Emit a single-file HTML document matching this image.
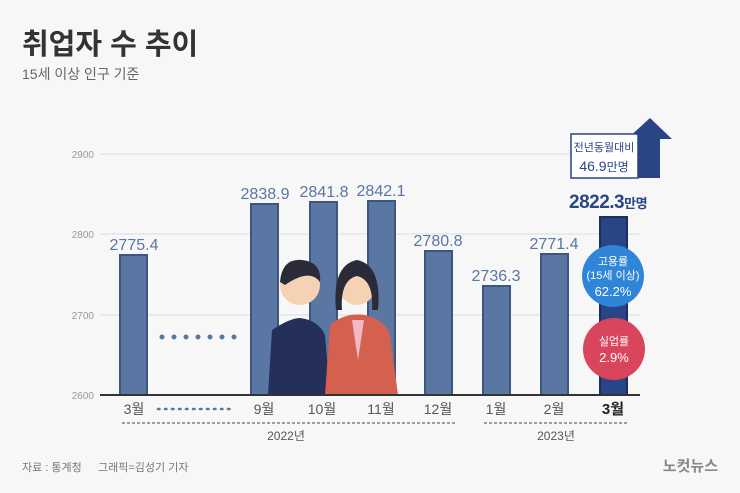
<!DOCTYPE html>
<html><head><meta charset="utf-8"><style>
body{margin:0;width:740px;height:488px;overflow:hidden;background:#f7f7f7;font-family:"Liberation Sans","Noto Sans CJK KR",sans-serif;}
</style></head><body>
<svg width="740" height="488" xmlns="http://www.w3.org/2000/svg" font-family="Liberation Sans, Noto Sans CJK KR, sans-serif">
<rect width="740" height="488" fill="#f7f7f7"/>
<text x="22" y="54" font-size="29" font-weight="bold" fill="#333">취업자 수 추이</text>
<text x="22" y="79" font-size="14" fill="#666">15세 이상 인구 기준</text>
<g stroke="#dcdcdc" stroke-width="1">
<line x1="100" y1="154" x2="640" y2="154"/><line x1="100" y1="234" x2="640" y2="234"/><line x1="100" y1="315" x2="640" y2="315"/>
</g>
<g font-size="10" fill="#999" text-anchor="end">
<text x="94" y="158">2900</text><text x="94" y="238">2800</text><text x="94" y="319">2700</text><text x="94" y="399">2600</text>
</g>
<g fill="#5a76a3" stroke="#3d5680" stroke-width="2">
<rect x="120" y="255" width="27" height="140"/>
<rect x="251" y="204" width="27" height="191"/>
<rect x="310" y="202" width="27" height="193"/>
<rect x="368" y="201" width="27" height="194"/>
<rect x="425" y="251" width="27" height="144"/>
<rect x="483" y="286" width="27" height="109"/>
<rect x="541" y="254" width="27" height="141"/>
</g>
<rect x="600" y="217" width="27" height="178" fill="#2a4585" stroke="#1d2f5e" stroke-width="2"/>
<g font-size="16" fill="#5a76a3" text-anchor="middle">
<text x="134" y="250">2775.4</text><text x="265" y="199">2838.9</text><text x="324" y="197">2841.8</text><text x="381" y="196">2842.1</text><text x="438" y="246">2780.8</text><text x="496" y="281">2736.3</text><text x="554" y="249">2771.4</text>
</g>
<text x="569" y="208" font-size="19" font-weight="bold" fill="#2a4585" letter-spacing="-0.5">2822.3<tspan font-size="13">만명</tspan></text>
<g fill="#5a76a3"><circle cx="162" cy="337" r="2.5"/><circle cx="174" cy="337" r="2.5"/><circle cx="186" cy="337" r="2.5"/><circle cx="198" cy="337" r="2.5"/><circle cx="210" cy="337" r="2.5"/><circle cx="222" cy="337" r="2.5"/><circle cx="234" cy="337" r="2.5"/></g>
<!-- people -->
<path d="M268 395 L272 330 Q290 318 300 318 Q318 320 325 335 L330 395 Z" fill="#25305a"/>
<circle cx="300" cy="285" r="20" fill="#f6d2b5"/>
<path d="M280 282 Q282 258 302 260 Q322 262 320 282 Q310 268 285 285 Z" fill="#2a2a38"/>
<path d="M325 395 L330 325 Q345 312 365 315 Q385 320 390 335 L398 395 Z" fill="#d4604f"/>
<path d="M352 320 L358 360 L364 320 Z" fill="#f2b8c8"/>
<circle cx="357" cy="287" r="18" fill="#f6d2b5"/>
<path d="M336 310 Q332 265 357 260 Q382 265 378 310 L372 310 Q374 280 357 276 Q340 280 342 310 Z" fill="#2a2a38"/>
<!-- arrow box -->
<path d="M628 178 L628 139 L627 139 L650 118 L672 139 L660 139 L660 178 Z" fill="#2a4585"/>
<rect x="571" y="134" width="67" height="44" fill="#fff" stroke="#2a4585" stroke-width="1.5"/>
<text x="604" y="151" font-size="11" fill="#2a4585" text-anchor="middle">전년동월대비</text>
<text x="604" y="171" font-size="14" fill="#2a4585" text-anchor="middle">46.9<tspan font-size="12">만명</tspan></text>
<circle cx="613" cy="276" r="31" fill="#2f86d9"/>
<text x="613" y="265" font-size="11" fill="#fff" text-anchor="middle">고용률</text>
<text x="613" y="279" font-size="11" fill="#fff" text-anchor="middle">(15세 이상)</text>
<text x="613" y="296" font-size="13" fill="#fff" text-anchor="middle">62.2%</text>
<circle cx="614" cy="349" r="31" fill="#d8455c"/>
<text x="614" y="345" font-size="11" fill="#fff" text-anchor="middle">실업률</text>
<text x="614" y="362" font-size="13" fill="#fff" text-anchor="middle">2.9%</text>
<line x1="100" y1="395" x2="640" y2="395" stroke="#333" stroke-width="2"/>
<g font-size="14" fill="#555" text-anchor="middle">
<text x="134" y="414">3월</text><text x="264" y="414">9월</text><text x="322" y="414">10월</text><text x="381" y="414">11월</text><text x="438" y="414">12월</text><text x="496" y="414">1월</text><text x="554" y="414">2월</text>
</g>
<text x="613" y="414" font-size="15" fill="#222" text-anchor="middle" font-weight="bold">3월</text>
<line x1="158" y1="409" x2="235" y2="409" stroke="#5a76a3" stroke-width="2.5" stroke-dasharray="1.5,5.5" stroke-linecap="round"/>
<line x1="122" y1="423" x2="455" y2="423" stroke="#444" stroke-dasharray="3,2"/>
<line x1="484" y1="423" x2="627" y2="423" stroke="#444" stroke-dasharray="3,2"/>
<text x="286" y="440" font-size="12" fill="#555" text-anchor="middle">2022년</text>
<text x="556" y="440" font-size="12" fill="#555" text-anchor="middle">2023년</text>
<text x="22" y="471" font-size="11" fill="#777">자료 : 통계청</text>
<text x="98" y="471" font-size="11" fill="#777">그래픽=김성기 기자</text>
<text x="718" y="471" font-size="15" font-weight="bold" fill="#888" text-anchor="end">노컷뉴스</text>
</svg>
</body></html>
